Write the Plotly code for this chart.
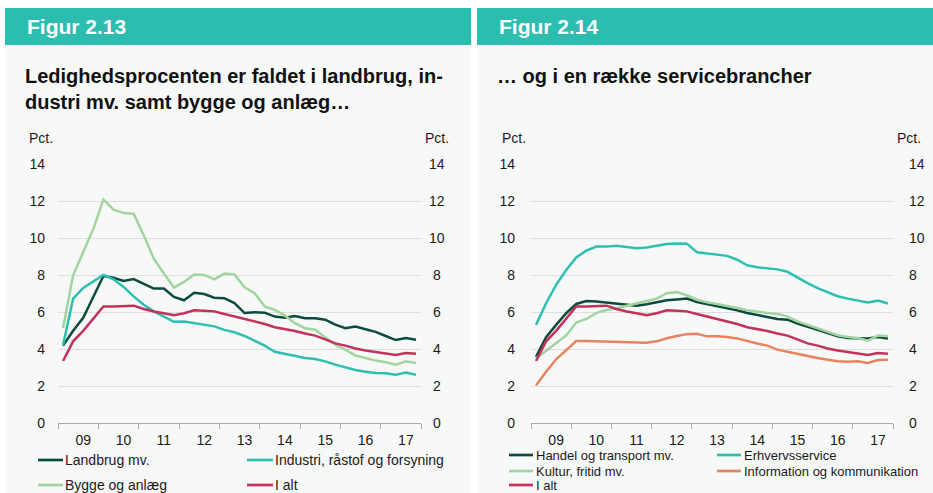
import plotly.graph_objects as go

W, H = 933, 493

# ---------------- data ----------------
years = list(range(2009, 2018))
year_labels = ["09", "10", "11", "12", "13", "14", "15", "16", "17"]
quarter_x = [y + (q - 0.5) / 4 for y in years for q in range(1, 5)]

# Figur 2.13
landbrug = [4.2, 5.0, 5.7, 6.8, 7.96, 7.87, 7.69, 7.8, 7.53, 7.28,
            7.28, 6.83, 6.65, 7.06, 6.99, 6.79, 6.76, 6.5, 5.96, 6.0,
            5.98, 5.77, 5.71, 5.8, 5.68, 5.68, 5.6, 5.33, 5.14, 5.23,
            5.08, 4.94, 4.72, 4.5, 4.61, 4.52]
industri = [4.23, 6.74, 7.32, 7.69, 8.02, 7.78, 7.37, 6.86, 6.41, 6.05,
            5.75, 5.49, 5.5, 5.42, 5.3, 5.24, 5.05, 4.92, 4.72, 4.47,
            4.2, 3.87, 3.75, 3.66, 3.53, 3.48, 3.35, 3.17, 3.03, 2.88,
            2.79, 2.72, 2.7, 2.63, 2.74, 2.63]
bygge = [5.15, 8.0, 9.26, 10.5, 12.1, 11.55, 11.37, 11.33, 10.16, 8.9,
         8.1, 7.33, 7.64, 8.04, 8.02, 7.78, 8.09, 8.05, 7.35, 7.03,
         6.31, 6.13, 5.82, 5.41, 5.14, 5.06, 4.65, 4.25, 3.98, 3.66,
         3.53, 3.39, 3.3, 3.17, 3.35, 3.26]
i_alt = [3.37, 4.43, 5.0, 5.64, 6.31, 6.32, 6.36, 6.36, 6.18, 6.04,
         5.95, 5.84, 5.95, 6.11, 6.09, 6.05, 5.91, 5.78, 5.61, 5.51,
         5.37, 5.19, 5.1, 4.99, 4.85, 4.74, 4.54, 4.32, 4.2, 4.04,
         3.93, 3.84, 3.78, 3.69, 3.8, 3.76]

# Figur 2.14
handel = [3.6, 4.65, 5.32, 5.95, 6.45, 6.61, 6.58, 6.52, 6.45, 6.4,
          6.36, 6.43, 6.56, 6.65, 6.69, 6.74, 6.56, 6.45, 6.36, 6.23,
          6.11, 5.96, 5.87, 5.75, 5.64, 5.6, 5.39, 5.24, 5.06, 4.88,
          4.7, 4.61, 4.59, 4.59, 4.67, 4.59]
erhverv = [5.32, 6.49, 7.48, 8.29, 8.97, 9.33, 9.55, 9.55, 9.6, 9.55,
           9.46, 9.5, 9.59, 9.69, 9.72, 9.71, 9.25, 9.19, 9.12, 9.05,
           8.84, 8.54, 8.44, 8.37, 8.32, 8.19, 7.88, 7.58, 7.31, 7.07,
           6.87, 6.74, 6.63, 6.53, 6.63, 6.48]
kultur = [3.5, 3.9, 4.3, 4.75, 5.45, 5.64, 5.97, 6.12, 6.22, 6.34,
          6.45, 6.61, 6.74, 7.03, 7.09, 6.92, 6.68, 6.54, 6.45, 6.36,
          6.23, 6.11, 6.02, 5.96, 5.91, 5.78, 5.51, 5.33, 5.15, 4.94,
          4.76, 4.67, 4.61, 4.47, 4.74, 4.7]
information = [2.05, 2.79, 3.46, 3.96, 4.45, 4.45, 4.43, 4.41, 4.4, 4.38,
               4.38, 4.36, 4.43, 4.6, 4.72, 4.82, 4.84, 4.7, 4.7, 4.67,
               4.59, 4.43, 4.31, 4.2, 3.98, 3.87, 3.75, 3.62, 3.53, 3.44,
               3.35, 3.33, 3.35, 3.26, 3.42, 3.43]

y_ticks = [0, 2, 4, 6, 8, 10, 12, 14]

# ---------------- style ----------------
FONT = "Arial, Liberation Sans, sans-serif"
TXT = "#1a1a1a"
DARK = "#0d4a3e"
TEAL = "#2ebfb1"
LIGHT = "#a2d4a0"
RED = "#c2325a"
ORANGE = "#e8825f"
HEADER = "#2cbdb0"
PANEL = "#f7f9f9"
GRID = "#dedede"
AXIS = "#a8a8a8"


def px(x):
    return x / W


def py(y):
    return 1 - y / H


fig = go.Figure()

# (name, values, colour, symbol x0, symbol x1, text x, legend y)
left_series = [
    ("Landbrug mv.", landbrug, DARK, 38, 63, 64, 460),
    ("Industri, råstof og forsyning", industri, TEAL, 247, 273, 274, 460),
    ("Bygge og anlæg", bygge, LIGHT, 38, 63, 64, 485),
    ("I alt", i_alt, RED, 247, 273, 274, 485),
]
right_series = [
    ("Handel og transport mv.", handel, DARK, 509, 533, 535, 455),
    ("Erhvervsservice", erhverv, TEAL, 717, 741, 743, 455),
    ("Kultur, fritid mv.", kultur, LIGHT, 509, 533, 535, 471),
    ("Information og kommunikation", information, ORANGE, 717, 741, 743, 471),
    ("I alt", i_alt, RED, 509, 533, 535, 485),
]

shapes = [
    # panel backgrounds
    dict(type="rect", xref="paper", yref="paper", x0=px(5), x1=px(471),
         y0=0, y1=py(45), fillcolor=PANEL, line=dict(width=0), layer="below"),
    dict(type="rect", xref="paper", yref="paper", x0=px(477), x1=1,
         y0=0, y1=py(45), fillcolor=PANEL, line=dict(width=0), layer="below"),
    # headers
    dict(type="rect", xref="paper", yref="paper", x0=px(5), x1=px(471),
         y0=py(45), y1=py(8), fillcolor=HEADER, line=dict(width=0), layer="below"),
    dict(type="rect", xref="paper", yref="paper", x0=px(477), x1=1,
         y0=py(45), y1=py(8), fillcolor=HEADER, line=dict(width=0), layer="below"),
]
annotations = []

for series, xa, ya, fs in [(left_series, "x", "y", 14), (right_series, "x2", "y2", 13)]:
    for name, vals, col, sx0, sx1, tx, ly in series:
        fig.add_trace(go.Scatter(
            x=quarter_x, y=vals, name=name, mode="lines",
            line=dict(color=col, width=2.5),
            xaxis=xa, yaxis=ya, showlegend=False,
        ))
        # legend entry: key line + label
        shapes.append(dict(type="line", xref="paper", yref="paper",
                           x0=px(sx0), x1=px(sx1), y0=py(ly), y1=py(ly),
                           line=dict(color=col, width=2.7)))
        annotations.append(dict(text=name, x=px(tx), y=py(ly), xref="paper", yref="paper",
                                xanchor="left", yanchor="middle", showarrow=False,
                                borderpad=0, font=dict(family=FONT, size=fs, color=TXT)))

ydom = [py(423.3), py(164.3)]


def xaxis_cfg(x0, x1, anchor):
    return dict(
        domain=[px(x0), px(x1)], range=[2009, 2018], anchor=anchor,
        tickvals=[y + 0.625 for y in years], ticktext=year_labels,
        ticks="", showgrid=False, zeroline=False,
        showline=True, linecolor=AXIS, linewidth=1,
        minor=dict(tick0=2009, dtick=1, ticks="outside", ticklen=5,
                   tickcolor=AXIS, tickwidth=1, showgrid=False),
        tickfont=dict(family=FONT, size=14, color=TXT),
        ticklabelstandoff=4, fixedrange=True,
    )


def yaxis_cfg(anchor, standoff):
    return dict(
        domain=ydom, range=[0, 14], tickvals=y_ticks, anchor=anchor,
        showgrid=True, gridcolor=GRID, gridwidth=1, zeroline=False,
        ticks="", showline=False,
        tickfont=dict(family=FONT, size=14, color=TXT),
        ticklabelstandoff=standoff, fixedrange=True,
    )


annotations += [
    dict(text="<b>Figur 2.13</b>", x=px(25), y=py(27), xref="paper", yref="paper",
         xanchor="left", yanchor="middle", showarrow=False,
         font=dict(family=FONT, size=21, color="white")),
    dict(text="<b>Figur 2.14</b>", x=px(497), y=py(27), xref="paper", yref="paper",
         xanchor="left", yanchor="middle", showarrow=False,
         font=dict(family=FONT, size=21, color="white")),
    dict(text="<b>Ledighedsprocenten er faldet i landbrug, in-<br>dustri mv. samt bygge og anlæg…</b>",
         x=px(24), y=py(88.5), xref="paper", yref="paper", xanchor="left", yanchor="middle",
         align="left", showarrow=False, borderpad=0,
         font=dict(family=FONT, size=20, color="#111111")),
    dict(text="<b>… og i en række servicebrancher</b>",
         x=px(496), y=py(76), xref="paper", yref="paper", xanchor="left", yanchor="middle",
         align="left", showarrow=False, borderpad=0,
         font=dict(family=FONT, size=20, color="#111111")),
]

# "Pct." labels
for cx in [41, 436.5, 514, 909]:
    annotations.append(dict(text="Pct.", x=px(cx), y=py(138), xref="paper", yref="paper",
                            xanchor="center", yanchor="middle", showarrow=False,
                            font=dict(family=FONT, size=14, color=TXT)))

# right-hand axis labels
for v in y_ticks:
    annotations.append(dict(text=str(v), x=px(437), y=v, xref="paper", yref="y",
                            xanchor="center", yanchor="middle", showarrow=False,
                            font=dict(family=FONT, size=14, color=TXT)))
    annotations.append(dict(text=str(v), x=px(907), y=v, xref="paper", yref="y2",
                            xanchor="left", yanchor="middle", showarrow=False,
                            font=dict(family=FONT, size=14, color=TXT)))

fig.update_layout(
    width=W, height=H,
    margin=dict(l=0, r=0, t=0, b=0, autoexpand=False),
    paper_bgcolor="white", plot_bgcolor="rgba(0,0,0,0)",
    font=dict(family=FONT, color=TXT),
    showlegend=False,
    xaxis=xaxis_cfg(58, 421, "y"),
    yaxis=yaxis_cfg("x", 12),
    xaxis2=xaxis_cfg(531, 893, "y2"),
    yaxis2=yaxis_cfg("x2", 15),
    shapes=shapes,
    annotations=annotations,
)

fig.write_html("out.html",
               config={"displayModeBar": False},
               post_script="document.body.style.margin='0';document.body.style.overflow='hidden';")
